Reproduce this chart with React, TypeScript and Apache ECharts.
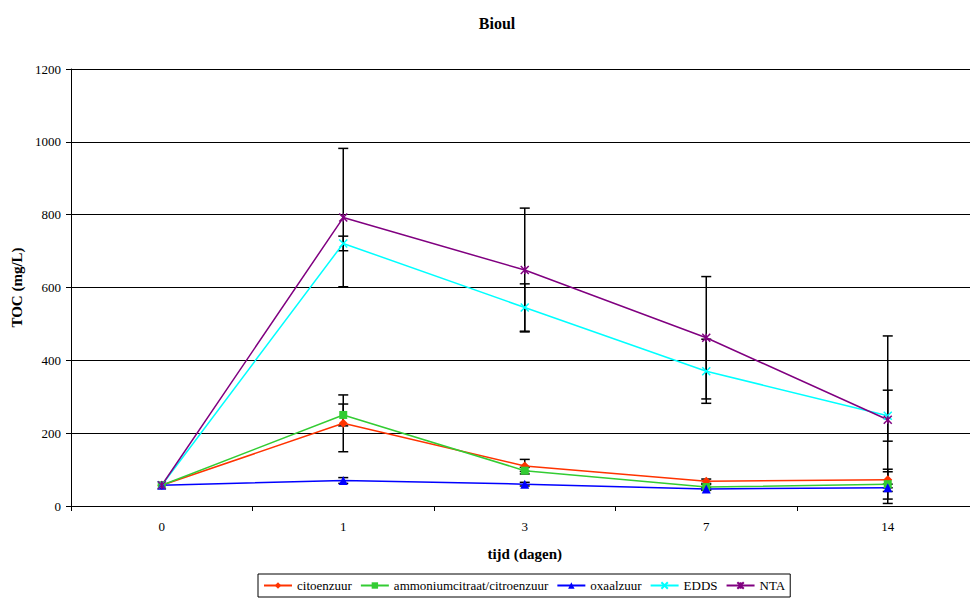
import React, { useEffect, useRef } from "react";
import * as echarts from "echarts";

const categories = ["0", "1", "3", "7", "14"];
const citoenzuur = [57, 227, 110, 68, 72];
const ammonium = [57, 250, 97, 52, 60];
const oxaalzuur = [57, 70, 60, 47, 50];
const edds = [57, 721, 545, 370, 248];
const nta = [57, 792, 648, 462, 237];

// error bars: [category index, low, high]
const errorBars = [
  [1, 602, 982], [1, 701, 741], [1, 149, 305], [1, 220, 280], [1, 62, 78],
  [2, 478, 818], [2, 480, 610], [2, 95, 128], [2, 88, 106], [2, 55, 65],
  [3, 294, 630], [3, 282, 458], [3, 62, 74], [3, 45, 59], [3, 43, 51],
  [4, 7, 467], [4, 178, 318], [4, 50, 94], [4, 19, 101], [4, 40, 60],
];

const FONT = "'Liberation Serif', serif";
const X_SYM = "path://M0,0 L10,10 M10,0 L0,10";
const STAR_SYM = "path://M0,0 L10,10 M10,0 L0,10 M5,0 L5,10";

export default function App() {
  const ref = useRef<HTMLDivElement>(null);
  useEffect(() => {
    document.body.style.margin = "0";
    const chart = echarts.init(ref.current!, null, { renderer: "svg" });
    const mk = (name: string, data: number[], color: string, symbol: string, size: number, stroke = false) => ({
      name,
      type: "line",
      data,
      symbol,
      symbolSize: size,
      z: 3,
      lineStyle: { color, width: 1.5 },
      itemStyle: stroke
        ? { color, borderColor: color, borderWidth: 1.5 }
        : { color },
    });
    chart.setOption({
      animation: false,
      textStyle: { fontFamily: FONT },
      title: {
        text: "Bioul",
        left: 492,
        top: 10,
        textAlign: "center",
        textStyle: { fontFamily: FONT, fontSize: 16, fontWeight: "bold", color: "#000" },
      },
      legend: {
        left: 258,
        top: 574,
        height: 23,
        padding: [5, 5],
        borderColor: "#000",
        borderWidth: 1,
        itemGap: 8,
        itemWidth: 28,
        itemHeight: 8,
        textStyle: { fontFamily: FONT, fontSize: 13, color: "#000" },
        data: ["citoenzuur", "ammoniumcitraat/citroenzuur", "oxaalzuur", "EDDS", "NTA"],
      },
      grid: { left: 71, top: 69, width: 907.5, height: 437 },
      xAxis: {
        type: "category",
        data: categories,
        boundaryGap: true,
        name: "tijd (dagen)",
        nameLocation: "middle",
        nameGap: 40,
        nameTextStyle: { fontFamily: FONT, fontSize: 15, fontWeight: "bold", color: "#000" },
        axisLine: { lineStyle: { color: "#000", width: 1 } },
        axisTick: { show: true, length: 5, lineStyle: { color: "#000" } },
        axisLabel: { color: "#000", fontSize: 13, fontFamily: FONT, margin: 14 },
      },
      yAxis: {
        type: "value",
        min: 0,
        max: 1200,
        interval: 200,
        name: "TOC (mg/L)",
        nameLocation: "middle",
        nameGap: 47,
        nameTextStyle: { fontFamily: FONT, fontSize: 15, fontWeight: "bold", color: "#000" },
        axisLine: { show: true, lineStyle: { color: "#000", width: 1 } },
        axisTick: { show: true, length: 5, lineStyle: { color: "#000" } },
        axisLabel: { color: "#000", fontSize: 13, fontFamily: FONT, margin: 10, formatter: (v: number) => String(v) },
        splitLine: { show: true, lineStyle: { color: "#000", width: 1 } },
      },
      series: [
        {
          type: "custom",
          name: "err",
          z: 2,
          silent: true,
          data: errorBars,
          renderItem: (_p: any, api: any) => {
            const x = api.value(0);
            const lo = api.coord([x, api.value(1)]);
            const hi = api.coord([x, api.value(2)]);
            const w = 5;
            const style = { stroke: "#000", lineWidth: 1.5 };
            return {
              type: "group",
              children: [
                { type: "line", shape: { x1: lo[0], y1: lo[1], x2: hi[0], y2: hi[1] }, style },
                { type: "line", shape: { x1: lo[0] - w, y1: lo[1], x2: lo[0] + w, y2: lo[1] }, style },
                { type: "line", shape: { x1: hi[0] - w, y1: hi[1], x2: hi[0] + w, y2: hi[1] }, style },
              ],
            };
          },
        },
        mk("citoenzuur", citoenzuur, "#FF3300", "diamond", 9),
        mk("ammoniumcitraat/citroenzuur", ammonium, "#33CC33", "rect", 8),
        mk("oxaalzuur", oxaalzuur, "#0000FF", "triangle", 9),
        mk("EDDS", edds, "#00FFFF", X_SYM, 8, true),
        mk("NTA", nta, "#800080", STAR_SYM, 8, true),
      ],
    });
    return () => chart.dispose();
  }, []);
  return (
    <div style={{ position: "absolute", left: 0, top: 0, width: 970, height: 598, overflow: "hidden", background: "#fff" }}>
      <div ref={ref} style={{ width: 990, height: 598 }} />
    </div>
  );
}
